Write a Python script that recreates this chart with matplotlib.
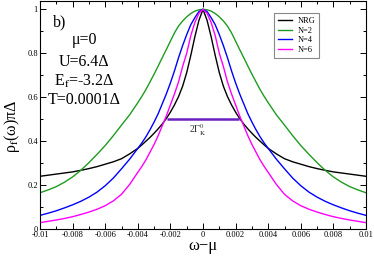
#!/usr/bin/env python
# -*- coding: utf-8 -*-

import numpy as np
import matplotlib
matplotlib.use("Agg")
import matplotlib.pyplot as plt
from matplotlib.ticker import MultipleLocator

plt.rcParams["font.family"] = "serif"
plt.rcParams["font.serif"] = ["Liberation Serif", "DejaVu Serif"]
plt.rcParams["mathtext.fontset"] = "stix"

# positive half of the frequency axis, curves are symmetric about 0
omega_half = [0, 0.00025, 0.0005, 0.00075, 0.001, 0.00125, 0.0015, 0.00175,
              0.002, 0.00225, 0.0025, 0.00275, 0.003, 0.00325, 0.0035, 0.00375,
              0.004, 0.0045, 0.005, 0.0055, 0.006, 0.0065, 0.007, 0.0075,
              0.008, 0.0085, 0.009, 0.0095, 0.01]

nrg_half = [1.0, 0.95, 0.875, 0.79, 0.712, 0.65, 0.603, 0.565,
            0.532, 0.503, 0.478, 0.456, 0.436, 0.417, 0.40, 0.383,
            0.367, 0.342, 0.32, 0.306, 0.295, 0.284, 0.275, 0.267,
            0.26, 0.255, 0.25, 0.245, 0.24]
n2_half = [1.0, 0.998, 0.992, 0.981, 0.966, 0.947, 0.924, 0.893,
           0.855, 0.817, 0.78, 0.742, 0.705, 0.67, 0.635, 0.604,
           0.575, 0.52, 0.473, 0.425, 0.38, 0.34, 0.302, 0.267,
           0.237, 0.213, 0.193, 0.178, 0.165]
n4_half = [1.0, 0.99, 0.962, 0.93, 0.885, 0.835, 0.78, 0.72,
           0.665, 0.615, 0.57, 0.525, 0.487, 0.452, 0.42, 0.392,
           0.367, 0.318, 0.274, 0.232, 0.197, 0.168, 0.145, 0.126,
           0.110, 0.096, 0.083, 0.072, 0.062]
n6_half = [1.0, 0.982, 0.94, 0.88, 0.80, 0.74, 0.67, 0.615,
           0.565, 0.515, 0.47, 0.425, 0.385, 0.35, 0.315, 0.285,
           0.258, 0.203, 0.158, 0.128, 0.106, 0.09, 0.077, 0.066,
           0.056, 0.048, 0.041, 0.035, 0.029]

labels = ["NRG", "N=2", "N=4", "N=6"]
colors = ["black", "#1f9b1f", "#0000ff", "#ff00ff"]

# Kondo width marker
gamma_left = -0.00223
gamma_right = 0.00221
gamma_level = 0.503


def mirror(x, y):
    x = np.asarray(x)
    y = np.asarray(y)
    return (np.concatenate([-x[:0:-1], x]),
            np.concatenate([y[:0:-1], y]))


fig = plt.figure(figsize=(3.74, 2.56), dpi=100)
ax = fig.add_axes([40/374, 27/256, 326/374, 228/256])

for ys, lab, col in zip([nrg_half, n2_half, n4_half, n6_half], labels, colors):
    xx, yy = mirror(omega_half, ys)
    ax.plot(xx, yy, color=col, lw=1.0, label=lab)

ax.plot([gamma_left, gamma_right], [gamma_level, gamma_level],
        color="#6a1fc0", lw=1.8, solid_capstyle="butt")
ax.text(-0.0003, 0.485, r"2$\Gamma_{\mathrm{K}}^{0}$", ha="center", va="top",
        fontsize=7, color="#333333")

ax.set_xlim(-0.01, 0.01)
ax.set_ylim(0, 1.038)
ax.xaxis.set_minor_locator(MultipleLocator(0.001))
ax.yaxis.set_minor_locator(MultipleLocator(0.1))
ax.set_xticks(np.arange(-0.01, 0.0101, 0.002))
ax.set_xticklabels(["-0.01", "-0.008", "-0.006", "-0.004", "-0.002", "0",
                    "0.002", "0.004", "0.006", "0.008", "0.01"])
ax.set_yticks([0, 0.2, 0.4, 0.6, 0.8, 1.0])
ax.set_yticklabels(["0", "0.2", "0.4", "0.6", "0.8", "1"])
ax.tick_params(which="both", direction="in", top=True, right=True,
               labelsize=6, pad=1.5)
ax.tick_params(which="major", length=4, width=0.7)
ax.tick_params(which="minor", length=2, width=0.7)
for sp in ax.spines.values():
    sp.set_linewidth(0.8)

ax.set_xlabel("ω−μ", fontsize=12, labelpad=-1)
ax.set_ylabel(r"ρ$_{\mathrm{f}}$(ω)πΔ", fontsize=11.5)
ax.yaxis.set_label_coords(-0.055, 0.45)

ax.text(-0.0092, 0.942, "b)", fontsize=11.5, va="center")
ax.text(-0.0073, 0.86, "μ=0", fontsize=11.5, ha="center", va="center")
ax.text(-0.0073, 0.762, "U=6.4Δ", fontsize=11.5, ha="center", va="center")
ax.text(-0.0073, 0.672, r"E$_{\mathrm{f}}$=-3.2Δ", fontsize=11.5, ha="center", va="center")
ax.text(-0.0073, 0.587, "T=0.0001Δ", fontsize=11.5, ha="center", va="center")

leg = ax.legend(loc="upper right", bbox_to_anchor=(0.856, 0.947), fontsize=6,
                handlelength=1.7, handletextpad=0.7, borderpad=0.45,
                labelspacing=0.2, borderaxespad=0, fancybox=False, framealpha=1)
leg.get_frame().set_edgecolor("#888888")
leg.get_frame().set_linewidth(0.8)

fig.savefig("out.png", dpi=100)
